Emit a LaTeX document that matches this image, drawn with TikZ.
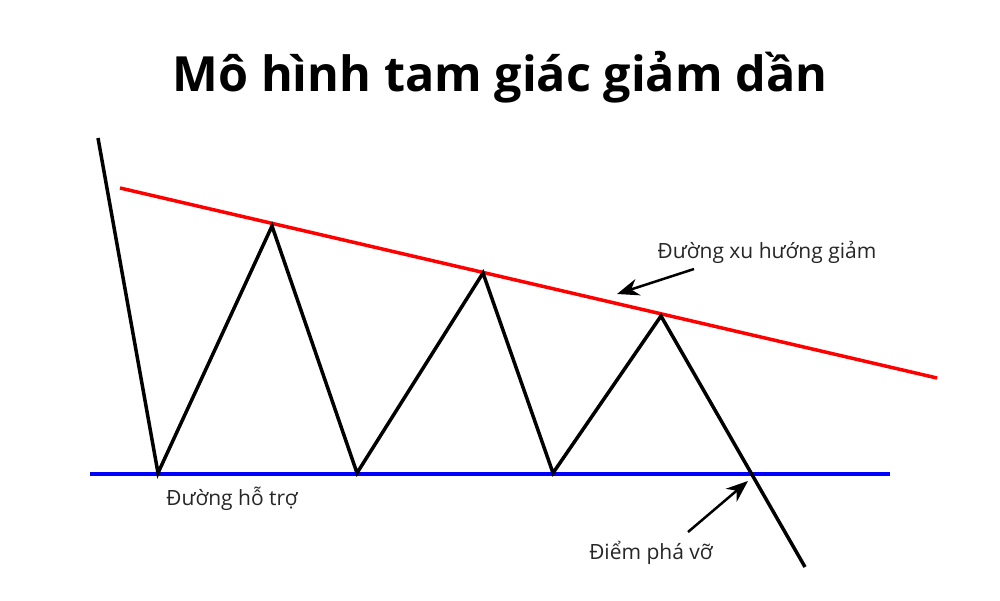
\documentclass[tikz,border=0pt]{standalone}
\usepackage{fontspec}
\setmainfont{Open Sans}
\usetikzlibrary{arrows.meta}

\begin{document}
\begin{tikzpicture}[x=1pt,y=-1pt]
      \useasboundingbox[fill=white] (0,0) rectangle (1000,600);
      \tikzset{lbl/.style={font=\fontsize{21}{24}\selectfont,text=black!85},
        pointer/.style={line width=2.5pt,-{Stealth[length=22pt,width=17pt]}}}
      \node[font=\fontsize{48.5}{54}\bfseries] (title) at (500,77) {Mô hình tam giác giảm dần};
      \draw
        (98,138) coordinate (p0)
        (158,473) coordinate (p1)
        (272,226) coordinate (p2)
        (357,473) coordinate (p3)
        (483,273) coordinate (p4)
        (553,473) coordinate (p5)
        (661,316) coordinate (p6)
        (805,567) coordinate (p7);
      \draw[red,line width=3.5pt] (120,188) coordinate (r0) -- (937,378) coordinate (r1);
      \draw[blue,line width=3.5pt] (90,474) coordinate (b0) -- (890,474) coordinate (b1);
      \draw[line width=3.5pt,line join=miter] (p0) -- (p1) -- (p2) -- (p3) -- (p4) -- (p5) -- (p6) -- (p7);
      \node[lbl] (trend) at (767,252) {Đường xu hướng giảm};
      \node[lbl] (support) at (232,499) {Đường hỗ trợ};
      \node[lbl] (breakout) at (651,553) {Điểm phá vỡ};
      \coordinate (trendtail) at (694,269);
      \coordinate (trendhead) at (617,294);
      \coordinate (breaktail) at (688,532);
      \coordinate (breakhead) at (748,481);
      \draw[pointer] (trendtail) -- (trendhead);
      \draw[pointer] (breaktail) -- (breakhead);
    \end{tikzpicture}
\end{document}
